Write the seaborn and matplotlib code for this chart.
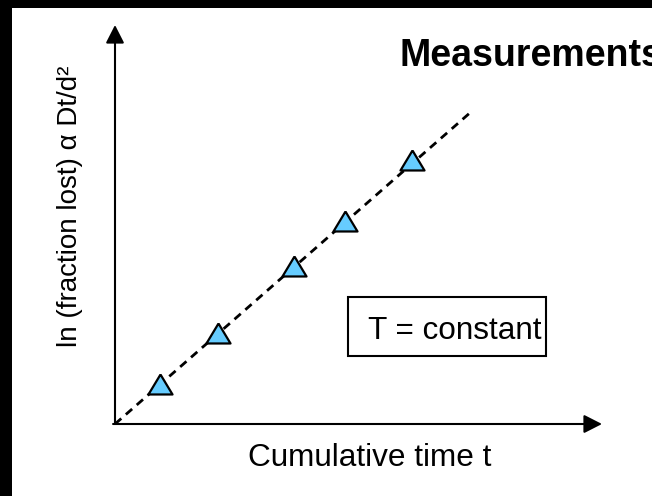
import numpy as np
import pandas as pd
import seaborn as sns
import matplotlib
matplotlib.use("Agg")
import matplotlib.pyplot as plt
from matplotlib.patches import Rectangle

# ---- data (arbitrary units) ----
time_vals = [0.92, 2.11, 3.68, 4.72, 6.10]
ln_loss_vals = [1.00, 2.28, 3.96, 5.09, 6.62]
fit_x = [0.0, 7.29]
fit_y = [0.0, 7.80]
title_text = "Measurements"
xlabel_text = "Cumulative time t"
ylabel_text = "ln (fraction lost) \u03b1 Dt/d\u00b2"
box_text = "T = constant"

sns.set_theme(style="white")
plt.rcParams["font.family"] = ["Liberation Sans", "DejaVu Sans"]

W, H = 652, 496
fig = plt.figure(figsize=(W / 100, H / 100), dpi=100)
fig.patch.set_facecolor("white")

def fx(px):
    return px / W

def fy(py):
    return 1 - py / H

# axes: origin at (115,424) px, x to 602 px, y up to 25 px
x0, y0, x1, y1 = 115, 424, 602, 25
ax = fig.add_axes([fx(x0), fy(y0), (x1 - x0) / W, (y0 - y1) / H])
ax.set_xlim(0, 10)
ax.set_ylim(0, 10)
ax.set_facecolor("none")
for s in ax.spines.values():
    s.set_visible(False)
ax.set_xticks([])
ax.set_yticks([])

# axis arrows
arrow_kw = dict(arrowstyle="-|>,head_length=1.1,head_width=0.56", mutation_scale=10,
                lw=1.5, color="black", shrinkA=0, shrinkB=0)
ax.annotate("", xy=(1, 0), xytext=(-0.004, 0), xycoords="axes fraction",
            textcoords="axes fraction", arrowprops=arrow_kw, annotation_clip=False)
ax.annotate("", xy=(0, 1), xytext=(0, 0), xycoords="axes fraction",
            textcoords="axes fraction", arrowprops=arrow_kw, annotation_clip=False)

# dashed fit line
fit_df = pd.DataFrame({"t": fit_x, "y": fit_y})
sns.lineplot(data=fit_df, x="t", y="y", ax=ax, color="black", lw=2.0,
             linestyle=(0, (3, 2.2)), clip_on=False)

# triangles
tri = [(0, 0.83), (-1, -0.83), (1, -0.83), (0, 0.83)]
pts = pd.DataFrame({"t": time_vals, "y": ln_loss_vals})
sns.scatterplot(data=pts, x="t", y="y", ax=ax, marker=tri, s=300,
                color="#66CCFF", edgecolor="black", linewidth=1.6, zorder=5,
                clip_on=False)
ax.set_xlabel("")
ax.set_ylabel("")

# texts
fig.text(fx(400), fy(66), title_text, fontsize=27, fontweight="bold",
         ha="left", va="baseline", color="black")
fig.text(fx(370), fy(466), xlabel_text, fontsize=22.7, ha="center",
         va="baseline", color="black")
fig.text(fx(70), fy(206), ylabel_text, fontsize=20, rotation=90,
         ha="center", va="center", color="black")

# text box
fig.add_artist(Rectangle((fx(348), fy(356)), 198 / W, 59 / H,
                         transform=fig.transFigure, fill=False,
                         edgecolor="black", lw=1.5))
fig.text(fx(368), fy(339), box_text, fontsize=22.7, ha="left",
         va="baseline", color="black")

# black frame bands (left and top)
fig.add_artist(Rectangle((0, 0), 12 / W, 1, transform=fig.transFigure,
                         facecolor="black", edgecolor="none"))
fig.add_artist(Rectangle((0, fy(8)), 1, 8 / H, transform=fig.transFigure,
                         facecolor="black", edgecolor="none"))

fig.savefig("out.png", dpi=100)
